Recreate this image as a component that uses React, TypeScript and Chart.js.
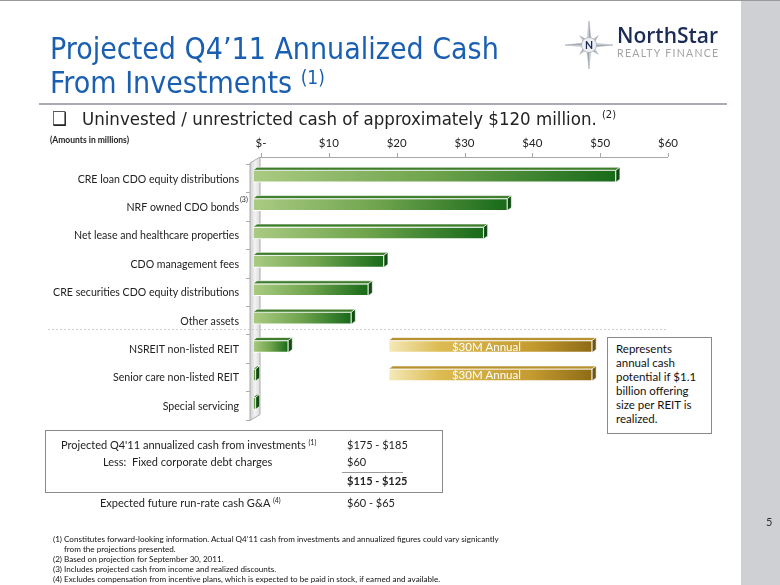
import React, { useEffect, useRef } from 'react';
import { Chart, registerables } from 'chart.js';

Chart.register(...registerables);

const categories = [
  'CRE loan CDO equity distributions',
  'NRF owned CDO bonds',
  'Net lease and healthcare properties',
  'CDO management fees',
  'CRE securities CDO equity distributions',
  'Other assets',
  'NSREIT non-listed REIT',
  'Senior care non-listed REIT',
  'Special servicing',
];
const cashValues = [53.5, 37.5, 34, 19.3, 17, 14.5, 5.2, 0.4, 0.4];
const potentialRanges: ([number, number] | null)[] = [null, null, null, null, null, null, [20, 50], [20, 50], null];
const potentialLabel = '$30M Annual';
const xMin = 0;
const xMax = 60;
const xStep = 10;
const tickLabel = (v: number) => (v === 0 ? '$-' : '$' + v);

const CAL = 'Lato, "Open Sans", sans-serif';
const TITLE = '"DejaVu Sans Condensed", "DejaVu Sans", sans-serif';

const DX = 4;
const DY = 3;
const LABEL_SHIFT = 8;

const threeD = {
  id: 'threeD',
  beforeDatasetsDraw(chart: any) {
    const { ctx, chartArea, scales } = chart;
    const xs = scales.x;
    const ys = scales.y;
    const L = chartArea.left;
    const T = chartArea.top;
    const B = chartArea.bottom;
    ctx.save();
    const g = ctx.createLinearGradient(L - 3, 0, L + 7, 0);
    g.addColorStop(0, '#cfcfcf');
    g.addColorStop(0.5, '#f4f4f4');
    g.addColorStop(1, '#dadada');
    ctx.fillStyle = g;
    ctx.beginPath();
    ctx.moveTo(L - 3, T + 1);
    ctx.lineTo(L + 7, T - 5);
    ctx.lineTo(L + 7, B - 3);
    ctx.lineTo(L - 3, B + 3);
    ctx.closePath();
    ctx.fill();
    ctx.strokeStyle = '#acacac';
    ctx.lineWidth = 1;
    ctx.stroke();
    for (let i = 0; i <= categories.length; i++) {
      const yb = i === 0 ? T : i === categories.length ? B : (ys.getPixelForValue(i - 1) + ys.getPixelForValue(i)) / 2;
      ctx.beginPath();
      ctx.moveTo(L - 7, Math.round(yb + 2) + 0.5);
      ctx.lineTo(L - 3, Math.round(yb + 2) + 0.5);
      ctx.stroke();
    }
    ctx.strokeStyle = '#a8a8a8';
    ctx.beginPath();
    ctx.moveTo(L + 7, Math.round(T - 5) + 0.5);
    ctx.lineTo(xs.getPixelForValue(xMax) + LABEL_SHIFT, Math.round(T - 5) + 0.5);
    ctx.stroke();
    for (let v = xMin; v <= xMax; v += xStep) {
      const px = Math.round(xs.getPixelForValue(v) + LABEL_SHIFT) + 0.5;
      ctx.beginPath();
      ctx.moveTo(px, T - 5);
      ctx.lineTo(px, T - 9);
      ctx.stroke();
    }
    const sy = Math.round((ys.getPixelForValue(5) + ys.getPixelForValue(6)) / 2 - 3) + 0.5;
    ctx.strokeStyle = '#cfcfcf';
    ctx.setLineDash([2, 2]);
    ctx.beginPath();
    ctx.moveTo(48, sy);
    ctx.lineTo(xs.getPixelForValue(xMax) + LABEL_SHIFT, sy);
    ctx.stroke();
    ctx.restore();
  },
  afterDatasetsDraw(chart: any) {
    const { ctx } = chart;
    ctx.save();
    chart.data.datasets.forEach((ds: any, di: number) => {
      const meta = chart.getDatasetMeta(di);
      const gold = di === 1;
      meta.data.forEach((el: any, i: number) => {
        const raw = ds.data[i];
        if (raw === null || raw === undefined) return;
        const p = el.getProps(['x', 'y', 'base', 'height'], true);
        const x0 = Math.min(p.x, p.base);
        const x1 = Math.max(p.x, p.base);
        const y0 = p.y - p.height / 2;
        const y1 = p.y + p.height / 2;
        ctx.fillStyle = gold ? '#b89230' : '#3d7d2c';
        ctx.beginPath();
        ctx.moveTo(x0, y0);
        ctx.lineTo(x0 + DX, y0 - DY);
        ctx.lineTo(x1 + DX, y0 - DY);
        ctx.lineTo(x1, y0);
        ctx.closePath();
        ctx.fill();
        ctx.strokeStyle = 'rgba(255,255,255,0.8)';
        ctx.lineWidth = 0.8;
        ctx.stroke();
        ctx.fillStyle = gold ? '#6f5512' : '#0f4c10';
        ctx.beginPath();
        ctx.moveTo(x1, y0);
        ctx.lineTo(x1 + DX, y0 - DY);
        ctx.lineTo(x1 + DX, y1 - DY);
        ctx.lineTo(x1, y1);
        ctx.closePath();
        ctx.fill();
        ctx.stroke();
        if (gold) {
          ctx.fillStyle = '#ffffff';
          ctx.font = '11.5px ' + CAL;
          ctx.textAlign = 'center';
          ctx.textBaseline = 'middle';
          ctx.fillText(potentialLabel, (x0 + x1) / 2 - 4, p.y + 0.5);
        }
      });
    });
    const ys = chart.scales.y;
    ctx.fillStyle = '#222';
    ctx.font = '7px ' + CAL;
    ctx.textAlign = 'left';
    ctx.textBaseline = 'middle';
    ctx.fillText('(3)', 240, ys.getPixelForValue(1) - 5);
    ctx.restore();
  },
};

function greenFill(c: any) {
  const chart = c.chart;
  if (!chart.chartArea || c.dataIndex === undefined) return '#5d9a3c';
  const xs = chart.scales.x;
  const a = xs.getPixelForValue(0);
  const b = xs.getPixelForValue(cashValues[c.dataIndex]);
  const g = chart.ctx.createLinearGradient(a, 0, Math.max(b, a + 2), 0);
  g.addColorStop(0, '#aacb82');
  g.addColorStop(0.5, '#6ea34c');
  g.addColorStop(1, '#186a1a');
  return g;
}

function goldFill(c: any) {
  const chart = c.chart;
  const r = c.dataIndex !== undefined ? potentialRanges[c.dataIndex] : null;
  if (!chart.chartArea || !r) return '#c9a23a';
  const xs = chart.scales.x;
  const a = xs.getPixelForValue(r[0]);
  const b = xs.getPixelForValue(r[1]);
  const g = chart.ctx.createLinearGradient(a, 0, b, 0);
  g.addColorStop(0, '#f5e9b8');
  g.addColorStop(0.25, '#dcbb52');
  g.addColorStop(0.7, '#c49b30');
  g.addColorStop(1, '#8e6b16');
  return g;
}

function BarChart() {
  const ref = useRef<HTMLCanvasElement>(null);
  useEffect(() => {
    if (!ref.current) return;
    const chart = new Chart(ref.current, {
      type: 'bar',
      data: {
        labels: categories,
        datasets: [
          {
            label: 'Cash from investments',
            data: cashValues,
            backgroundColor: greenFill,
            borderColor: '#ffffff',
            borderWidth: 1,
            borderSkipped: false,
            barThickness: 12,
            grouped: false,
          } as any,
          {
            label: 'Annual potential',
            data: potentialRanges as any,
            backgroundColor: goldFill,
            borderColor: '#ffffff',
            borderWidth: 1,
            borderSkipped: false,
            barThickness: 12,
            grouped: false,
          } as any,
        ],
      },
      options: {
        indexAxis: 'y',
        responsive: false,
        animation: false,
        devicePixelRatio: 1,
        layout: { padding: { left: 0, top: 132, right: 120, bottom: 167.5 } },
        plugins: { legend: { display: false }, tooltip: { enabled: false } },
        scales: {
          x: {
            position: 'top',
            min: xMin,
            max: xMax,
            grid: { display: false, drawTicks: false },
            border: { display: false },
            ticks: {
              stepSize: xStep,
              callback: (v: any) => tickLabel(Number(v)),
              labelOffset: LABEL_SHIFT,
              padding: 12,
              color: '#222',
              font: { family: CAL, size: 11.5 },
            },
            afterFit: (s: any) => {
              s.height = 30;
            },
          },
          y: {
            grid: { display: false, drawTicks: false },
            border: { display: false },
            ticks: {
              padding: 14,
              labelOffset: 3,
              color: '#222',
              font: { family: CAL, size: 10.6 },
            },
            afterFit: (s: any) => {
              s.width = 253;
            },
          },
        },
      },
      plugins: [threeD],
    } as any);
    return () => chart.destroy();
  }, []);
  return <canvas ref={ref} width={780} height={585} style={{ position: 'absolute', left: 0, top: 0 }} />;
}

function Txt(props: { x: number; cy: number; size: number; children: any; style?: any }) {
  return (
    <div
      style={{
        position: 'absolute',
        left: props.x,
        top: props.cy - props.size * 0.53,
        fontSize: props.size,
        lineHeight: props.size + 'px',
        fontFamily: CAL,
        color: '#222',
        whiteSpace: 'nowrap',
        ...(props.style || {}),
      }}
    >
      {props.children}
    </div>
  );
}

function Logo() {
  const cx = 589;
  const cy = 45;
  const pts: any[] = [];
  for (let k = 0; k < 8; k++) {
    const a = (k * 45 - 90) * (Math.PI / 180);
    const r = k % 2 === 0 ? 24 : 13;
    const ox = cx + r * Math.cos(a);
    const oy = cy + r * Math.sin(a);
    const al = a - (22.5 * Math.PI) / 180;
    const ar = a + (22.5 * Math.PI) / 180;
    const ri = 5.5;
    pts.push(
      <polygon key={'l' + k} points={`${cx},${cy} ${ox},${oy} ${cx + ri * Math.cos(al)},${cy + ri * Math.sin(al)}`} fill="#d8dbe0" stroke="#aeb2ba" strokeWidth={0.4} />,
      <polygon key={'r' + k} points={`${cx},${cy} ${ox},${oy} ${cx + ri * Math.cos(ar)},${cy + ri * Math.sin(ar)}`} fill="#9ba1ab" stroke="#aeb2ba" strokeWidth={0.4} />
    );
  }
  return (
    <svg width={780} height={100} style={{ position: 'absolute', left: 0, top: 0 }}>
      {pts}
      <circle cx={cx} cy={cy} r={7.5} fill="#eef0f3" stroke="#9aa0aa" strokeWidth={0.6} />
      <text x={cx} y={cy + 3.8} fontFamily={CAL} fontWeight="bold" fontSize={10.5} fill="#1b2b55" textAnchor="middle">
        N
      </text>
    </svg>
  );
}

export default function App() {
  return (
    <div style={{ position: 'fixed', left: 0, top: 0, width: 780, height: 585, background: '#fff', overflow: 'hidden' }}>
      <div style={{ position: 'absolute', left: 741, top: 0, width: 39, height: 585, background: '#cfd0d4' }} />
      <div style={{ position: 'absolute', left: 0, top: 0, width: 780, height: 1, background: '#9a9a9a' }} />
      <BarChart />
      <Logo />
      <div style={{ position: 'absolute', left: 617, top: 23, fontFamily: '"Open Sans", Lato, sans-serif', fontWeight: 600, fontSize: 21, lineHeight: '24px', color: '#1b2b55', whiteSpace: 'nowrap' }}>NorthStar</div>
      <div style={{ position: 'absolute', left: 617, top: 47, fontFamily: CAL, fontSize: 10.5, lineHeight: '12px', letterSpacing: 1.3, color: '#a3a3a3', whiteSpace: 'nowrap' }}>REALTY FINANCE</div>

      <div style={{ position: 'absolute', left: 50, top: 33.6, fontFamily: TITLE, fontSize: 30, lineHeight: '30px', color: '#1a5fb0', whiteSpace: 'nowrap' }}>Projected Q4’11 Annualized Cash</div>
      <div style={{ position: 'absolute', left: 50, top: 67.6, fontFamily: TITLE, fontSize: 30, lineHeight: '30px', color: '#1a5fb0', whiteSpace: 'nowrap' }}>
        From Investments <span style={{ fontSize: 19, position: 'relative', top: -9 }}>(1)</span>
      </div>
      <div style={{ position: 'absolute', left: 39, top: 103, width: 688, height: 2, background: '#a9a9b8' }} />

      <div style={{ position: 'absolute', left: 52, top: 110.4, fontFamily: TITLE, fontSize: 18.5, lineHeight: '18.5px', color: '#222', whiteSpace: 'nowrap' }}>❑</div>
      <div style={{ position: 'absolute', left: 82, top: 110.4, fontFamily: TITLE, fontSize: 18.5, lineHeight: '18.5px', color: '#222', whiteSpace: 'nowrap' }}>
        Uninvested / unrestricted cash of approximately $120 million. <span style={{ fontSize: 11, position: 'relative', top: -7 }}>(2)</span>
      </div>
      <Txt x={50} cy={141} size={8.5} style={{ fontWeight: 'bold' }}>(Amounts in millions)</Txt>

      <div style={{ position: 'absolute', left: 607, top: 337, width: 103, height: 95, border: '1px solid #8a8a8a', background: '#fff' }} />
      {['Represents', 'annual cash', 'potential if $1.1', 'billion offering', 'size per REIT is', 'realized.'].map((t, i) => (
        <Txt key={t} x={616} cy={349 + i * 14} size={11.5} style={{ color: '#111' }}>
          {t}
        </Txt>
      ))}

      <div style={{ position: 'absolute', left: 45, top: 430, width: 396, height: 61, border: '1px solid #8a8a8a' }} />
      <Txt x={61} cy={445} size={11}>
        Projected Q4'11 annualized cash from investments <span style={{ fontSize: 7, position: 'relative', top: -4 }}>(1)</span>
      </Txt>
      <Txt x={347} cy={445} size={11}>$175 - $185</Txt>
      <Txt x={103} cy={462} size={11}>Less:&nbsp; Fixed corporate debt charges</Txt>
      <Txt x={347} cy={462} size={11}>$60</Txt>
      <div style={{ position: 'absolute', left: 342, top: 472, width: 61, height: 1, background: '#9a9a9a' }} />
      <Txt x={347} cy={481} size={11} style={{ fontWeight: 'bold' }}>$115 - $125</Txt>
      <Txt x={100} cy={503} size={11}>
        Expected future run-rate cash G&amp;A <span style={{ fontSize: 7, position: 'relative', top: -4 }}>(4)</span>
      </Txt>
      <Txt x={347} cy={503} size={11}>$60 - $65</Txt>

      {[
        ['(1)', 'Constitutes forward-looking information.  Actual Q4’11 cash from investments and annualized figures could vary signicantly'],
        ['', 'from the projections presented.'],
        ['(2)', 'Based on projection for September 30, 2011.'],
        ['(3)', 'Includes projected cash from income and realized discounts.'],
        ['(4)', 'Excludes compensation from incentive plans, which is expected to be paid in stock, if earned and available.'],
      ].map((r, i) => (
        <React.Fragment key={i}>
          {r[0] ? (
            <Txt x={53} cy={539 + i * 10} size={8.1} style={{ color: '#111' }}>
              {r[0]}
            </Txt>
          ) : null}
          <Txt x={64} cy={539 + i * 10} size={8.1} style={{ color: '#111' }}>
            {r[1]}
          </Txt>
        </React.Fragment>
      ))}
      <Txt x={766} cy={522} size={11} style={{ color: '#333' }}>5</Txt>
    </div>
  );
}
